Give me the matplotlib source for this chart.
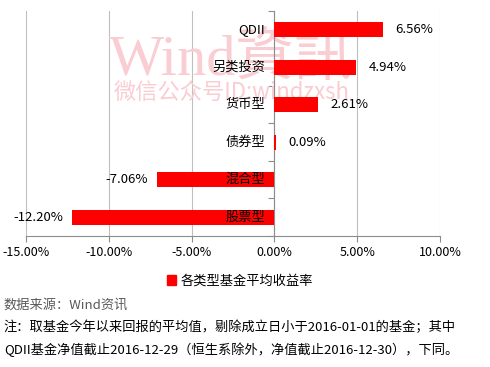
import matplotlib
matplotlib.use("Agg")
import matplotlib.pyplot as plt
from matplotlib.patches import Patch
import numpy as np

plt.rcParams['font.family'] = ['Noto Sans CJK SC', 'DejaVu Sans']

categories = ['QDII', '另类投资', '货币型', '债券型', '混合型', '股票型']
returns = [6.56, 4.94, 2.61, 0.09, -7.06, -12.20]
xticks = [-15, -10, -5, 0, 5, 10]
legend_label = '各类型基金平均收益率'
source_text = '数据来源：Wind资讯'
note_lines = ['注：取基金今年以来回报的平均值，剔除成立日小于2016-01-01的基金；其中',
              'QDII基金净值截止2016-12-29（恒生系除外，净值截止2016-12-30），下同。']

red = '#ff0000'
grey = '#8c8c8c'
pink = '#f9cdd1'

fig = plt.figure(figsize=(4.9, 3.67), dpi=100)
ax = fig.add_axes([0.053, 0.357, 0.845, 0.613])

y = np.arange(len(categories))
ax.barh(y, returns, height=0.4, color=red, zorder=3)
ax.set_xlim(-15, 10)
ax.set_ylim(len(categories) - 0.5, -0.5)

# watermark
ax.text(-10.0, 0.8, 'Wind資訊', fontsize=42, color=pink,
        family=['Liberation Serif', 'Noto Sans CJK TC'], va='center', zorder=1)
ax.text(-9.7, 1.68, '微信公众号ID:windzxsh', fontsize=16, color=pink,
        family=['Noto Sans CJK SC', 'Liberation Serif'], va='center', zorder=1)

for i, (cat, val) in enumerate(zip(categories, returns)):
    ax.text(-0.55, i, cat, ha='right', va='center', fontsize=9.5, color='black', zorder=4)
    if val >= 0:
        ax.text(val + 0.75, i, f'{val:.2f}%', ha='left', va='center', fontsize=9.5, zorder=4)
    else:
        ax.text(val - 0.55, i, f'{val:.2f}%', ha='right', va='center', fontsize=9.5, zorder=4)

ax.set_xticks(xticks)
ax.set_xticklabels([f'{t:.2f}%' for t in xticks], fontsize=9)
ax.set_yticks(np.arange(len(categories) + 1) - 0.5)
ax.set_yticklabels([])
ax.spines['left'].set_position(('data', 0))
for s in ['top', 'right']:
    ax.spines[s].set_visible(False)
ax.spines['left'].set_color(grey)
ax.spines['bottom'].set_color(grey)
ax.tick_params(axis='both', colors=grey, length=4, width=0.8)
ax.tick_params(axis='x', labelcolor='black', pad=3)
ax.grid(axis='x', color='#bfbfbf', linewidth=0.8, zorder=0)
ax.set_axisbelow(True)

fig.legend(handles=[Patch(color=red, label=legend_label)], loc='center',
           bbox_to_anchor=(0.49, 0.234), frameon=False, fontsize=9.5,
           handlelength=0.7, handleheight=0.7, handletextpad=0.3)

fig.text(0.008, 0.168, source_text, fontsize=9.5, style='italic', color='#595959', va='center')
fig.text(0.008, 0.108, note_lines[0], fontsize=9.5, color='black', va='center')
fig.text(0.008, 0.048, note_lines[1], fontsize=9.5, color='black', va='center')

fig.savefig('out.png', dpi=100)
